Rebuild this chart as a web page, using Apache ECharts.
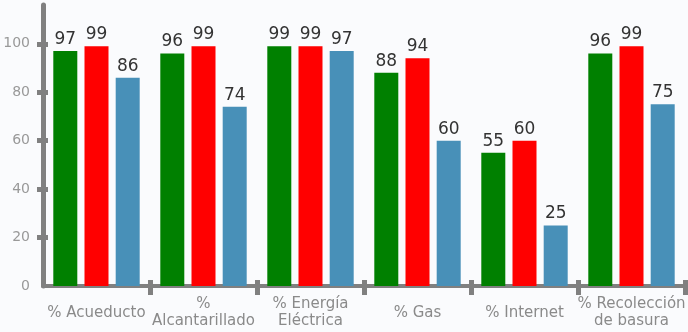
<!DOCTYPE html>
<html lang="es">
<head>
    <meta charset="UTF-8">
    <title>Servicios</title>
    <script src="https://cdn.jsdelivr.net/npm/echarts@6/dist/echarts.min.js"></script>
    <style>
        html, body { margin: 0; padding: 0; background: #fafbfd; }
        #main { width: 688px; height: 332px; }
    </style>
</head>
<body>
<div id="main"></div>
<script>
    // datos
    var categorias = ['% Acueducto', '%\nAlcantarillado', '% Energía\nEléctrica', '% Gas', '% Internet', '% Recolección\nde basura'];
    var serieVerde = [97, 96, 99, 88, 55, 96];
    var serieRoja = [99, 99, 99, 94, 60, 99];
    var serieAzul = [86, 74, 97, 60, 25, 75];
    var ticksY = [0, 20, 40, 60, 80, 100];
    var marcasY = [20, 40, 60, 80, 100];

    var gris = '#808080';
    var fuente = 'DejaVu Sans';

    var myChart = echarts.init(document.getElementById('main'));

    function barra(datos, color) {
        return {
            type: 'bar',
            data: datos,
            barWidth: 24,
            barGap: '30%',
            itemStyle: { color: color },
            label: {
                show: true,
                position: 'top',
                distance: 3,
                color: '#333333',
                fontFamily: fuente,
                fontSize: 17
            }
        };
    }

    // sin marca en la esquina del origen
    function sinPrimera(i) { return i > 0; }

    var option = {
        backgroundColor: '#fafbfd',
        animation: false,
        grid: { left: 43, right: 3, top: 5, bottom: 46, outerBoundsMode: 'none', containLabel: false },
        xAxis: [
            {
                type: 'category',
                data: categorias,
                position: 'bottom',
                axisLine: { lineStyle: { color: gris, width: 4 } },
                axisTick: { show: true, length: 9, interval: sinPrimera, lineStyle: { color: gris, width: 5 } },
                axisLabel: {
                    color: '#8a8a8a', fontFamily: fuente, fontSize: 15,
                    margin: 27, verticalAlign: 'middle', lineHeight: 17, interval: 0
                }
            },
            {
                type: 'category',
                data: categorias,
                position: 'bottom',
                axisLine: { show: false },
                axisTick: { show: true, inside: true, length: 6, interval: sinPrimera, lineStyle: { color: gris, width: 5 } },
                axisLabel: { show: false }
            }
        ],
        yAxis: [
            {
                type: 'value',
                min: 0,
                max: 116,
                position: 'left',
                splitLine: { show: false },
                axisLine: { show: true, lineStyle: { color: gris, width: 5 } },
                axisTick: { show: true, length: 6, customValues: marcasY, lineStyle: { color: gris, width: 5 } },
                axisLabel: {
                    color: '#999999', fontFamily: fuente, fontSize: 14, margin: 13,
                    customValues: ticksY
                }
            },
            {
                type: 'value',
                min: 0,
                max: 116,
                position: 'left',
                splitLine: { show: false },
                axisLine: { show: false },
                axisTick: { show: true, inside: true, length: 5, customValues: marcasY, lineStyle: { color: gris, width: 5 } },
                axisLabel: { show: false }
            }
        ],
        series: [
            barra(serieVerde, '#008000'),
            barra(serieRoja, '#ff0000'),
            barra(serieAzul, '#4890b8')
        ]
    };

    myChart.setOption(option);
</script>
</body>
</html>
